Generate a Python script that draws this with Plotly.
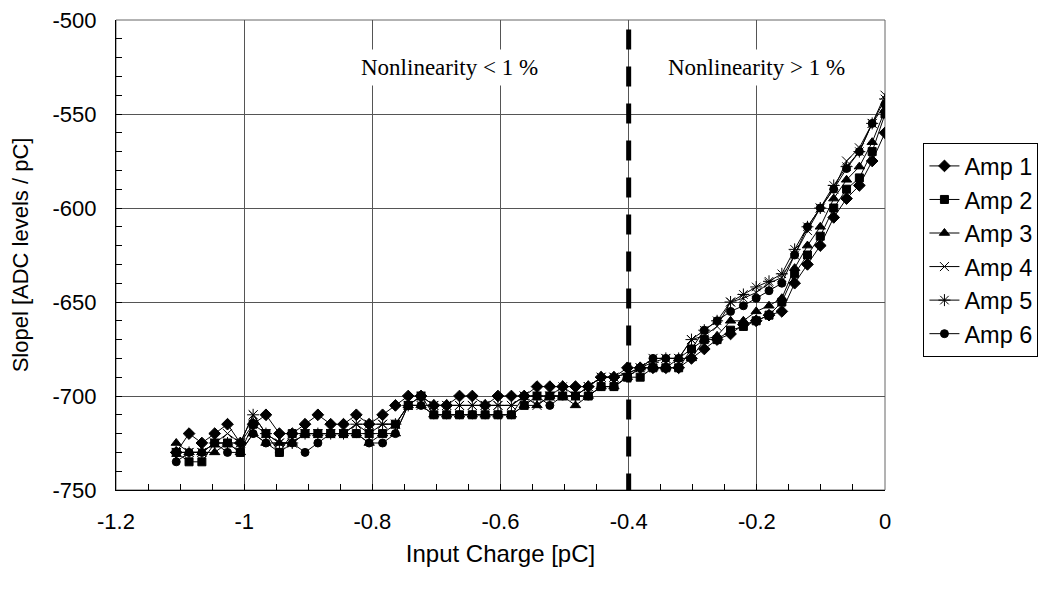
import plotly.graph_objects as go

x_charge = [-1.106, -1.086, -1.066, -1.046, -1.026, -1.006, -0.986, -0.966, -0.945, -0.925,
            -0.905, -0.885, -0.865, -0.845, -0.825, -0.805, -0.784, -0.764, -0.744, -0.724,
            -0.704, -0.684, -0.664, -0.644, -0.624, -0.604, -0.583, -0.563, -0.543, -0.523,
            -0.503, -0.483, -0.463, -0.443, -0.423, -0.402, -0.382, -0.362, -0.342, -0.322,
            -0.302, -0.282, -0.262, -0.241, -0.221, -0.201, -0.181, -0.161, -0.141, -0.121,
            -0.101, -0.080, -0.060, -0.040, -0.020, 0.0]

amp1 = [-730, -720, -725, -720, -715, -725, -715, -710, -720, -720,
        -715, -710, -715, -715, -710, -715, -710, -705, -700, -700,
        -705, -705, -700, -700, -705, -700, -700, -700, -695, -695,
        -695, -695, -695, -690, -690, -685, -685, -685, -685, -685,
        -680, -675, -670, -667, -662, -660, -657, -655, -640, -630,
        -620, -605, -595, -588, -575, -560]
amp2 = [-730, -735, -735, -725, -725, -730, -715, -720, -730, -720,
        -720, -720, -720, -720, -720, -720, -720, -715, -705, -700,
        -710, -710, -710, -710, -710, -710, -710, -705, -700, -700,
        -700, -700, -700, -695, -695, -690, -690, -685, -685, -685,
        -675, -670, -670, -665, -663, -660, -657, -650, -635, -625,
        -615, -600, -590, -584, -570, -550]
amp3 = [-725, -730, -730, -730, -725, -730, -720, -725, -725, -725,
        -720, -720, -720, -720, -720, -725, -720, -720, -705, -705,
        -710, -710, -710, -710, -710, -710, -710, -705, -705, -700,
        -700, -705, -700, -695, -695, -690, -685, -685, -685, -680,
        -680, -670, -668, -660, -660, -655, -652, -648, -632, -620,
        -610, -595, -585, -578, -565, -548]
amp4 = [-730, -730, -730, -725, -720, -725, -710, -720, -725, -725,
        -720, -720, -720, -720, -715, -715, -715, -715, -705, -705,
        -705, -705, -705, -705, -705, -705, -705, -700, -705, -700,
        -700, -700, -695, -690, -690, -688, -685, -680, -680, -680,
        -670, -668, -663, -650, -648, -645, -640, -637, -625, -612,
        -600, -590, -575, -568, -555, -540]
amp5 = [-730, -730, -730, -725, -725, -725, -710, -720, -725, -725,
        -720, -720, -720, -720, -715, -720, -715, -715, -705, -700,
        -705, -705, -705, -705, -705, -705, -705, -700, -700, -700,
        -695, -700, -695, -690, -690, -688, -685, -682, -680, -680,
        -670, -665, -660, -650, -646, -642, -639, -635, -622, -610,
        -600, -588, -578, -570, -555, -542]
amp6 = [-735, -730, -730, -725, -730, -730, -720, -725, -730, -725,
        -730, -725, -720, -720, -720, -725, -725, -720, -705, -705,
        -710, -710, -710, -710, -710, -710, -710, -700, -700, -705,
        -700, -700, -700, -695, -695, -690, -685, -680, -680, -680,
        -675, -665, -660, -655, -652, -648, -644, -640, -625, -610,
        -600, -590, -579, -570, -555, -545]

series_names = ["Amp 1", "Amp 2", "Amp 3", "Amp 4", "Amp 5", "Amp 6"]
series_values = [amp1, amp2, amp3, amp4, amp5, amp6]
symbols = ["diamond", "square", "triangle-up", "x-thin-open", "asterisk-open", "circle"]
sizes = [9, 8, 9, 9, 10, 8]

x_tickvals = [-1.2, -1.0, -0.8, -0.6, -0.4, -0.2, 0.0]
x_ticktext = ["-1.2", "-1", "-0.8", "-0.6", "-0.4", "-0.2", "0"]
y_tickvals = [-750, -700, -650, -600, -550, -500]
y_ticktext = ["-750", "-700", "-650", "-600", "-550", "-500"]

boundary_x = -0.4
label_left = "Nonlinearity < 1 %"
label_right = "Nonlinearity > 1 %"

fig = go.Figure()
for name, vals, sym, sz in zip(series_names, series_values, symbols, sizes):
    fig.add_trace(go.Scatter(
        x=x_charge, y=vals, name=name, mode="lines+markers",
        line=dict(color="black", width=1),
        marker=dict(symbol=sym, size=sz, color="black",
                    line=dict(color="black", width=1)),
    ))

font_sans = "Liberation Sans, Arial, sans-serif"
font_serif = "Liberation Serif, Times New Roman, serif"

fig.add_shape(type="line", xref="x", yref="y", x0=boundary_x, x1=boundary_x,
              y0=-505, y1=-750, line=dict(color="black", width=5, dash="20px,17px"),
              layer="above")
fig.add_shape(type="rect", xref="paper", yref="paper", x0=0, x1=1, y0=0, y1=1,
              line=dict(color="#666", width=1), layer="below")

fig.add_annotation(x=-0.68, y=-525.5, xref="x", yref="y", text=label_left, showarrow=False,
                   font=dict(family=font_serif, size=23, color="black"),
                   bgcolor="white", borderpad=5)
fig.add_annotation(x=-0.2, y=-525.5, xref="x", yref="y", text=label_right, showarrow=False,
                   font=dict(family=font_serif, size=23, color="black"),
                   bgcolor="white", borderpad=5)

fig.update_layout(
    width=1039, height=590,
    margin=dict(l=116, r=154, t=20, b=100, autoexpand=False),
    paper_bgcolor="white", plot_bgcolor="white",
    font=dict(family=font_sans, size=22, color="black"),
    legend=dict(x=1.05, y=0.738, xanchor="left", yanchor="top",
                bordercolor="black", borderwidth=1, bgcolor="white",
                font=dict(family=font_sans, size=23.5, color="black"),
                tracegroupgap=0, itemwidth=30),
    showlegend=True,
)
fig.update_xaxes(
    range=[-1.2, 0], tickvals=x_tickvals, ticktext=x_ticktext,
    showgrid=True, gridcolor="#555", gridwidth=1, zeroline=False,
    showline=True, linecolor="black", linewidth=1,
    ticks="inside", ticklen=6, tickcolor="black", ticklabelstandoff=12,
    tickfont=dict(size=22),
    minor=dict(dtick=0.05, ticks="inside", ticklen=6, tickcolor="black", showgrid=False),
    title=dict(text="Input Charge [pC]", standoff=11,
               font=dict(family=font_sans, size=24)),
)
fig.update_yaxes(
    range=[-750, -500], tickvals=y_tickvals, ticktext=y_ticktext,
    showgrid=True, gridcolor="#555", gridwidth=1, zeroline=False,
    showline=True, linecolor="black", linewidth=1,
    ticks="inside", ticklen=6, tickcolor="black", ticklabelstandoff=14,
    tickfont=dict(size=22),
    minor=dict(dtick=10, ticks="inside", ticklen=6, tickcolor="black", showgrid=False),
    title=dict(text="Slopel [ADC levels / pC]", standoff=17,
               font=dict(family=font_sans, size=22)),
)

fig.write_html("out.html")
